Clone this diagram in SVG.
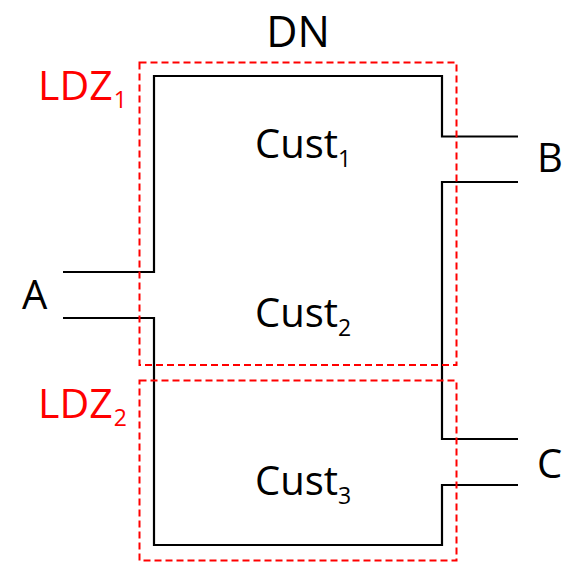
<svg xmlns="http://www.w3.org/2000/svg" width="573" height="562" viewBox="0 0 573 562">
<style>
.w{fill:none;stroke:#000;stroke-width:2.2}
.z{fill:none;stroke:#f00;stroke-width:2;stroke-dasharray:7,4}
.t{font-family:"Open Sans","DejaVu Sans",sans-serif;font-size:40px;fill:#000}
.r{fill:#f00;font-size:41px}
.s{font-size:23px}
.big{font-size:43px}
</style>
<rect width="573" height="562" fill="#fff"/>
<g id="connectors">
<path class="w" d="M63,272 H154 V76 H442 V136.5 H518"/>
<path class="w" d="M518,182 H442 V439 H518"/>
<path class="w" d="M518,485 H442 V545 H154 V318 H63"/>
</g>
<g id="LDZ1"><rect class="z" x="139.5" y="62.5" width="317" height="302.5"/>
<text class="t r" x="38" y="100">LDZ<tspan class="s" dx="1" dy="8">1</tspan></text></g>
<g id="LDZ2"><rect class="z" x="139.5" y="380.5" width="317" height="180"/>
<text class="t r" x="38" y="418">LDZ<tspan class="s" dx="1" dy="8">2</tspan></text></g>
<g id="DN"><text class="t big" x="298" y="47" text-anchor="middle">DN</text></g>
<g id="Cust1"><text class="t" x="255" y="158">Cust<tspan class="s" dy="9">1</tspan></text></g>
<g id="Cust2"><text class="t" x="255" y="327">Cust<tspan class="s" dy="9">2</tspan></text></g>
<g id="Cust3"><text class="t" x="255" y="495">Cust<tspan class="s" dy="9">3</tspan></text></g>
<g id="A"><text class="t" x="22" y="309">A</text></g>
<g id="B"><text class="t" x="537" y="172">B</text></g>
<g id="C"><text class="t" x="537" y="478">C</text></g>
</svg>
